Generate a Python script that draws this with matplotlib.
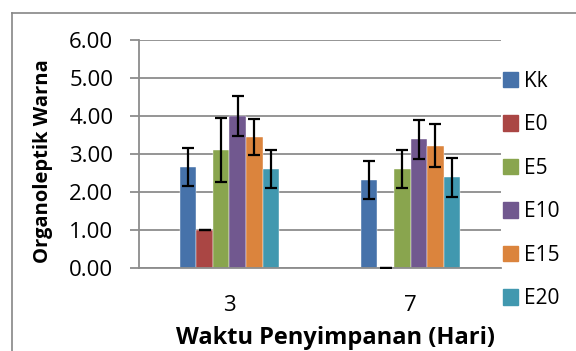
import matplotlib
matplotlib.use("Agg")
import matplotlib.pyplot as plt
from matplotlib.lines import Line2D
import numpy as np

# data
days = ["3", "7"]
series = ["Kk", "E0", "E5", "E10", "E15", "E20"]
means = {
    "Kk": [2.66, 2.32],
    "E0": [1.00, 0.00],
    "E5": [3.12, 2.60],
    "E10": [4.01, 3.39],
    "E15": [3.45, 3.22],
    "E20": [2.60, 2.39],
}
errors = {
    "Kk": [0.50, 0.49],
    "E0": [0.00, 0.00],
    "E5": [0.84, 0.50],
    "E10": [0.52, 0.51],
    "E15": [0.48, 0.56],
    "E20": [0.50, 0.51],
}
colors = ["#4672AA", "#AA4644", "#89A54E", "#71588F", "#DB843D", "#4198AF"]

plt.rcParams["font.family"] = ["Open Sans", "DejaVu Sans"]

fig = plt.figure(figsize=(5.76, 3.51), dpi=100)
ax = fig.add_axes([0.2413, 0.2356, 0.6285, 0.6504])

x = np.arange(len(days))
w = 0.0912
for i, name in enumerate(series):
    ax.bar(x + (i - 2.5) * w, means[name], w, color=colors[i],
           edgecolor="white", linewidth=0.3, label=name, zorder=2,
           yerr=errors[name], capsize=4.5,
           error_kw=dict(ecolor="black", elinewidth=1.6, capthick=1.6, zorder=3))

ax.set_xlim(-0.5, 1.5)
ax.set_ylim(0, 6)
ax.set_yticks(np.arange(0, 7, 1))
ax.set_yticklabels([f"{v:.2f}" for v in range(7)])
ax.set_xticks(x)
ax.set_xticklabels(days)

ax.grid(axis="y", color="#8C8C8C", linewidth=1.3, zorder=0)
ax.set_axisbelow(True)
for s in ["top", "right"]:
    ax.spines[s].set_visible(False)
for s in ["left", "bottom"]:
    ax.spines[s].set_color("#8C8C8C")
    ax.spines[s].set_linewidth(1.3)

ax.tick_params(axis="y", length=6.5, width=1.3, color="#8C8C8C", pad=12, labelsize=16)
ax.tick_params(axis="x", length=0, pad=19, labelsize=16)

fig.text(0.0747, 0.54, "Organoleptik Warna", rotation=90, ha="center", va="center",
         fontsize=14.5, fontweight="bold")
fig.text(0.582, 0.02, "Waktu Penyimpanan (Hari)", ha="center", va="baseline",
         fontsize=17, fontweight="bold")

# legend on the right
handles = [plt.Rectangle((0, 0), 1, 1, color=c) for c in colors]
fig.legend(handles, series, loc="upper left", bbox_to_anchor=(0.858, 0.822),
           frameon=False, fontsize=15, handlelength=0.75, handleheight=0.75,
           handletextpad=0.3, labelspacing=1.08, borderaxespad=0)

# outer chart border (only left and top are visible in the crop)
fig.add_artist(Line2D([12 / 576, 12 / 576], [0, 1 - 13 / 351],
                      transform=fig.transFigure, color="#868686", linewidth=1.2))
fig.add_artist(Line2D([12 / 576, 1], [1 - 13 / 351, 1 - 13 / 351],
                      transform=fig.transFigure, color="#868686", linewidth=1.2))

fig.savefig("out.png", dpi=100)
